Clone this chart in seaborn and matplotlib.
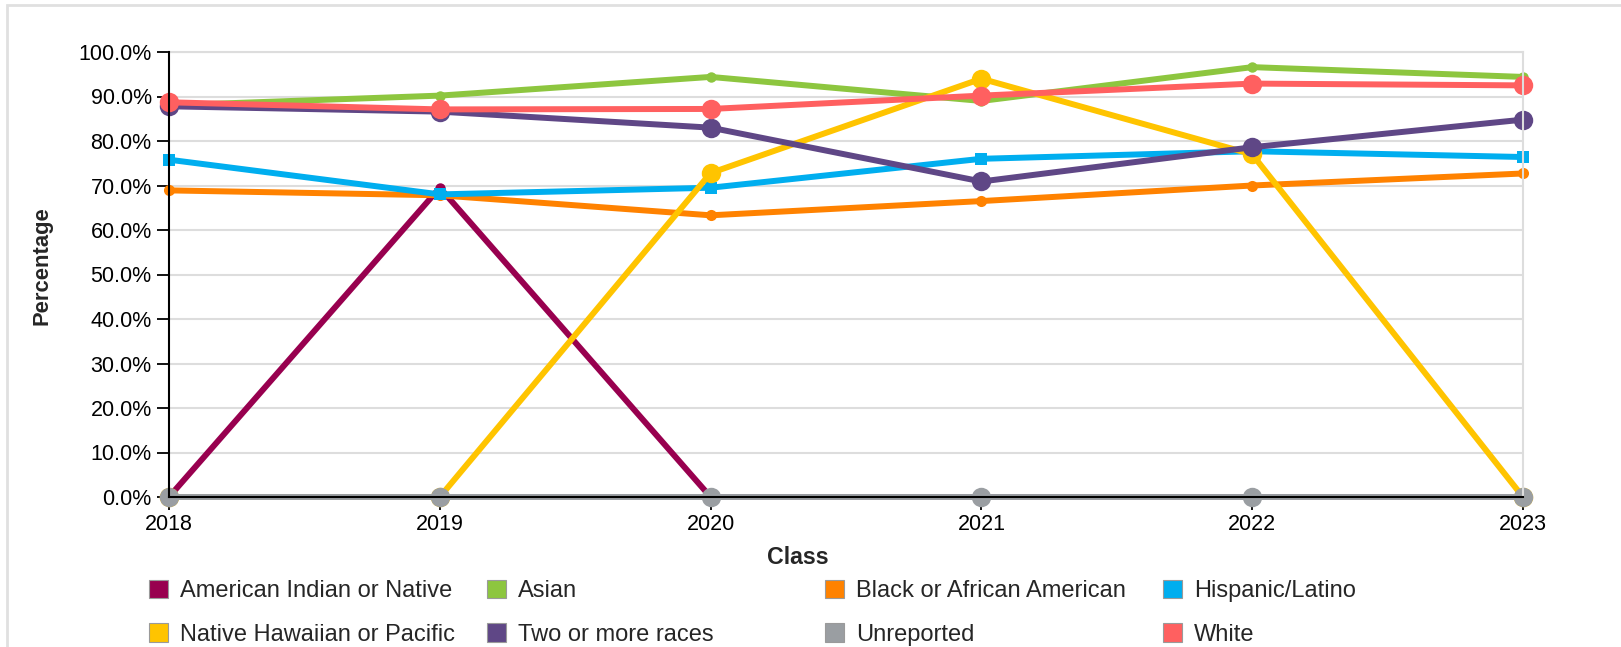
import matplotlib
matplotlib.use("Agg")
import seaborn as sns
from matplotlib import pyplot as plt
from matplotlib.patches import Patch, Rectangle
from matplotlib.ticker import FuncFormatter

years = [2018, 2019, 2020, 2021, 2022, 2023]

american_indian = [0.0, 69.5, 0.0, 0.0, 0.0, 0.0]
asian = [88.0, 90.2, 94.4, 89.0, 96.6, 94.4]
black = [68.9, 67.8, 63.3, 66.5, 70.0, 72.7]
hispanic = [75.8, 68.0, 69.5, 76.0, 77.7, 76.4]
native_hawaiian = [0.0, 0.0, 72.8, 94.0, 77.0, 0.0]
two_or_more = [87.8, 86.6, 83.0, 70.9, 78.6, 84.8]
unreported = [0.0, 0.0, 0.0, 0.0, 0.0, 0.0]
white = [88.7, 87.1, 87.2, 90.2, 92.9, 92.5]

names = ["American Indian or Native", "Asian", "Black or African American", "Hispanic/Latino",
         "Native Hawaiian or Pacific", "Two or more races", "Unreported", "White"]
series = [american_indian, asian, black, hispanic, native_hawaiian, two_or_more, unreported, white]
colors = ["#98004F", "#8DC63F", "#FF8200", "#00AEEF", "#FFC400", "#5F4786", "#9A9EA2", "#FF6060"]
markers = ["o", "o", "o", "s", "o", "o", "o", "o"]
msizes = [7.5, 7.5, 8, 8.6, 14, 14, 14, 14]

sns.set_style("white")
plt.rcParams["font.family"] = ["Liberation Sans", "DejaVu Sans"]

W, H = 1621, 647
fig = plt.figure(figsize=(W / 100, H / 100), dpi=100)
ax = fig.add_axes([169 / W, 1 - 497 / H, (1523 - 169) / W, (497 - 52) / H])

for name, vals, c, m, ms in zip(names, series, colors, markers, msizes):
    sns.lineplot(x=years, y=vals, ax=ax, color=c, marker=m, markersize=ms,
                 markeredgewidth=0, linewidth=4.3, clip_on=False, legend=False)

ax.set_xlim(2018, 2023)
ax.set_ylim(0, 100)
ax.set_xticks(years)
ax.set_xticklabels([str(y) for y in years])
ax.set_yticks(range(0, 101, 10))
ax.yaxis.set_major_formatter(FuncFormatter(lambda v, p: f"{v:.1f}%"))
ax.tick_params(axis="both", labelsize=15.5, colors="black", length=9, width=1.3,
               direction="out", bottom=True, left=True)
ax.grid(axis="y", color="#DDDDDD", linewidth=1.5)
ax.set_axisbelow(True)
for s in ["left", "bottom"]:
    ax.spines[s].set_color("black")
    ax.spines[s].set_linewidth(1.5)
    ax.spines[s].set_zorder(3)
for s in ["top", "right"]:
    ax.spines[s].set_color("#DDDDDD")
    ax.spines[s].set_linewidth(1.5)

ax.set_xlabel("Class", fontsize=16.7, fontweight="bold")
ax.set_ylabel("Percentage", fontsize=15.8, fontweight="bold")
ax.xaxis.set_label_coords((798 - 169) / (1523 - 169), -(558 - 497) / (497 - 52))
ax.yaxis.set_label_coords(-(169 - 42) / (1523 - 169), 1 - (266 - 52) / (497 - 52))
ax.xaxis.label.set_va("center")
ax.yaxis.label.set_va("center")

# legend: 4 columns of 2 rows, evenly spaced
col_x = [149, 487, 825, 1163]
for i, x0 in enumerate(col_x):
    idx = [i, i + 4]
    handles = [Patch(facecolor=colors[k], edgecolor="#9A9A9A", linewidth=0.8) for k in idx]
    fig.legend(handles, [names[k] for k in idx], loc="upper left",
               bbox_to_anchor=(x0 / W, 1 - 580 / H), frameon=False, fontsize=17,
               handlelength=0.8, handleheight=0.8, handletextpad=0.5,
               borderpad=0, borderaxespad=0, labelspacing=0.9)

fig.patches.append(Rectangle((7 / W, -0.2), 1.0, 1.2 - 5 / H, transform=fig.transFigure,
                             fill=False, edgecolor="#E0E0E0", linewidth=2))

fig.savefig("out.png", dpi=100)
